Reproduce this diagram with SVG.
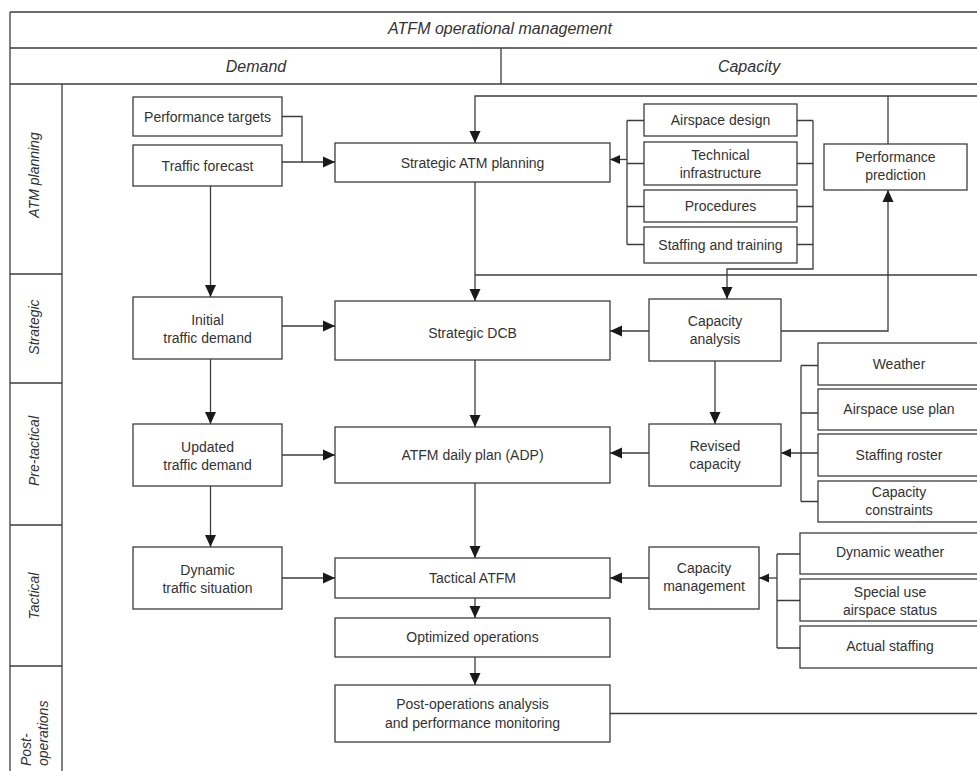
<svg xmlns="http://www.w3.org/2000/svg" width="977" height="771" viewBox="0 0 977 771">
<style>
.frame{fill:none;stroke:#3c3c3c;stroke-width:1.3}
.box{fill:#fff;stroke:#3c3c3c;stroke-width:1.3}
.ln{fill:none;stroke:#3c3c3c;stroke-width:1.3}
.arr{marker-end:url(#ah)}
.arrs{marker-end:url(#ahs)}
text{font-family:"Liberation Sans",Arial,sans-serif;font-size:14px;fill:#333;text-anchor:middle}
.hdr{font-size:16px;font-style:italic}
.side{font-size:14px;font-style:italic}
</style>
<defs>
<marker id="ah" markerUnits="userSpaceOnUse" markerWidth="12" markerHeight="12" refX="12" refY="6" orient="auto">
<path d="M0,0.5 L12,6 L0,11.5 z" fill="#1a1a1a"/>
</marker>
<marker id="ahs" markerUnits="userSpaceOnUse" markerWidth="10" markerHeight="10" refX="10" refY="5" orient="auto">
<path d="M0,0.5 L10,5 L0,9.5 z" fill="#1a1a1a"/>
</marker>
</defs>
<rect width="977" height="771" fill="#fff"/>
<g id="frame">
<path class="frame" d="M10,12 H977 M10,48 H977 M10,84 H977 M10,12 V771 M501,48 V84 M62,84 V771 M10,274 H62 M10,383 H62 M10,525 H62 M10,666 H62"/>
<text class="hdr" x="500" y="34">ATFM operational management</text>
<text class="hdr" x="256" y="72">Demand</text>
<text class="hdr" x="749" y="72">Capacity</text>
<text class="side" transform="translate(39,175) rotate(-90)">ATM planning</text>
<text class="side" transform="translate(39,327) rotate(-90)">Strategic</text>
<text class="side" transform="translate(39,451) rotate(-90)">Pre-tactical</text>
<text class="side" transform="translate(39,596) rotate(-90)">Tactical</text>
<text class="side" style="text-anchor:start" transform="translate(31,766) rotate(-90)">Post-</text>
<text class="side" style="text-anchor:start" transform="translate(48,766) rotate(-90)">operations</text>
</g>
<g id="connectors">
<path class="ln" d="M282,116.5 H302 V162"/>
<path class="ln arr" d="M282,162 H335"/>
<path class="ln arr" d="M210.5,186 V297"/>
<path class="ln arr" d="M210.5,359 V424"/>
<path class="ln arr" d="M210.5,486 V547"/>
<path class="ln arr" d="M282,326 H335"/>
<path class="ln arr" d="M282,455 H335"/>
<path class="ln arr" d="M282,578 H335"/>
<path class="ln arr" d="M475,182 V301"/>
<path class="ln arr" d="M475,360 V427"/>
<path class="ln arr" d="M475,483 V558"/>
<path class="ln arr" d="M475,598 V618"/>
<path class="ln arr" d="M475,657 V685"/>
<path class="ln" d="M610,713.5 H977"/>
<path class="ln arr" d="M977,96 H475 V143"/>
<path class="ln" d="M888,144 V96"/>
<path class="ln arr" d="M781,331 H888 V190"/>
<path class="ln" d="M475,275 H977"/>
<path class="ln" d="M797,120.5 H813 M797,163.5 H813 M797,206.5 H813 M797,244.5 H813"/>
<path class="ln arr" d="M813,120.5 V269 H727 V299"/>
<path class="ln" d="M644,120.5 H627 M644,163.5 H627 M644,206.5 H627 M644,244.5 H627 M627,120.5 V244.5"/>
<path class="ln arrs" d="M627,159.5 H610"/>
<path class="ln arr" d="M649,331 H610"/>
<path class="ln arr" d="M715,361 V424"/>
<path class="ln arr" d="M649,453 H610"/>
<path class="ln" d="M818,365.5 H801 M818,413 H801 M818,501.5 H801 M801,365.5 V501.5"/>
<path class="ln arrs" d="M818,453 H781"/>
<path class="ln arr" d="M649,578 H610"/>
<path class="ln" d="M800,554 H777 M800,600.5 H777 M800,648 H777 M777,554 V648"/>
<path class="ln arrs" d="M777,578 H759"/>
</g>
<g id="performance-targets"><rect class="box" x="133" y="97" width="149" height="39"/><text x="207.5" y="121.5">Performance targets</text></g>
<g id="traffic-forecast"><rect class="box" x="133" y="145" width="149" height="41"/><text x="207.5" y="170.5">Traffic forecast</text></g>
<g id="initial-traffic-demand"><rect class="box" x="133" y="297" width="149" height="62"/><text x="207.5" y="325">Initial</text><text x="207.5" y="343">traffic demand</text></g>
<g id="updated-traffic-demand"><rect class="box" x="133" y="424" width="149" height="62"/><text x="207.5" y="452">Updated</text><text x="207.5" y="470">traffic demand</text></g>
<g id="dynamic-traffic-situation"><rect class="box" x="133" y="547" width="149" height="62"/><text x="207.5" y="575">Dynamic</text><text x="207.5" y="593">traffic situation</text></g>
<g id="strategic-atm-planning"><rect class="box" x="335" y="143" width="275" height="39"/><text x="472.5" y="167.5">Strategic ATM planning</text></g>
<g id="strategic-dcb"><rect class="box" x="335" y="301" width="275" height="59"/><text x="472.5" y="338">Strategic DCB</text></g>
<g id="atfm-daily-plan"><rect class="box" x="335" y="427" width="275" height="56"/><text x="472.5" y="460">ATFM daily plan (ADP)</text></g>
<g id="tactical-atfm"><rect class="box" x="335" y="558" width="275" height="40"/><text x="472.5" y="583">Tactical ATFM</text></g>
<g id="optimized-operations"><rect class="box" x="335" y="618" width="275" height="39"/><text x="472.5" y="642">Optimized operations</text></g>
<g id="post-operations-analysis"><rect class="box" x="335" y="685" width="275" height="57"/><text x="472.5" y="709">Post-operations analysis</text><text x="472.5" y="728">and performance monitoring</text></g>
<g id="capacity-analysis"><rect class="box" x="649" y="299" width="132" height="62"/><text x="715" y="326">Capacity</text><text x="715" y="344">analysis</text></g>
<g id="revised-capacity"><rect class="box" x="649" y="424" width="132" height="62"/><text x="715" y="451">Revised</text><text x="715" y="469">capacity</text></g>
<g id="capacity-management"><rect class="box" x="649" y="547" width="110" height="62"/><text x="704" y="573">Capacity</text><text x="704" y="591">management</text></g>
<g id="airspace-design"><rect class="box" x="644" y="104" width="153" height="32"/><text x="720.5" y="125">Airspace design</text></g>
<g id="technical-infrastructure"><rect class="box" x="644" y="142" width="153" height="43"/><text x="720.5" y="160">Technical</text><text x="720.5" y="178">infrastructure</text></g>
<g id="procedures"><rect class="box" x="644" y="190" width="153" height="32"/><text x="720.5" y="211">Procedures</text></g>
<g id="staffing-and-training"><rect class="box" x="644" y="227" width="153" height="36"/><text x="720.5" y="250">Staffing and training</text></g>
<g id="performance-prediction"><rect class="box" x="824" y="144" width="143" height="46"/><text x="895.5" y="162">Performance</text><text x="895.5" y="180">prediction</text></g>
<g id="weather"><rect class="box" x="818" y="343" width="170" height="42"/><text x="899" y="369">Weather</text></g>
<g id="airspace-use-plan"><rect class="box" x="818" y="389" width="170" height="41"/><text x="899" y="414">Airspace use plan</text></g>
<g id="staffing-roster"><rect class="box" x="818" y="434" width="170" height="42"/><text x="899" y="460">Staffing roster</text></g>
<g id="capacity-constraints"><rect class="box" x="818" y="481" width="170" height="41"/><text x="899" y="497">Capacity</text><text x="899" y="515">constraints</text></g>
<g id="dynamic-weather"><rect class="box" x="800" y="533" width="188" height="41"/><text x="890" y="557">Dynamic weather</text></g>
<g id="special-use-airspace-status"><rect class="box" x="800" y="579" width="188" height="42"/><text x="890" y="597">Special use</text><text x="890" y="615">airspace status</text></g>
<g id="actual-staffing"><rect class="box" x="800" y="626" width="188" height="42"/><text x="890" y="651">Actual staffing</text></g>
</svg>
